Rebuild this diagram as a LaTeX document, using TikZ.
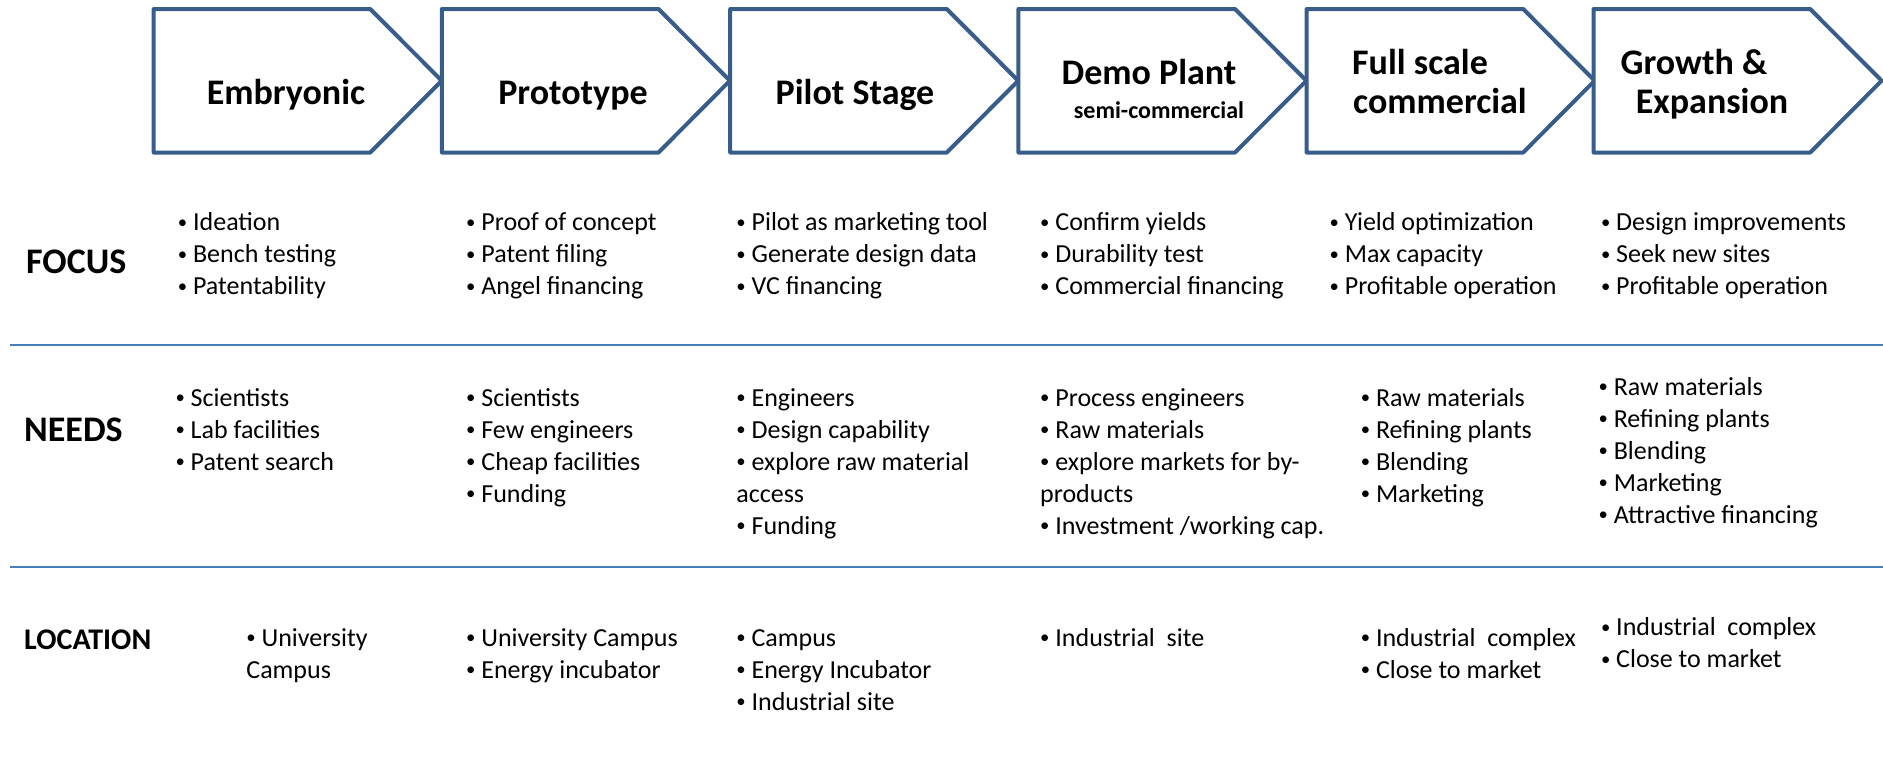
\documentclass[tikz,border=0pt]{standalone}
\usepackage{fontspec}
\setmainfont{Carlito}
\definecolor{arrowblue}{HTML}{385D8A}
\definecolor{lineblue}{HTML}{4A7EBB}
\newcommand\bul{\raisebox{0.1em}{\scalebox{0.72}{\textbullet}}\ }
\begin{document}
\begin{tikzpicture}[x=1pt,y=-1pt,
  stagebox/.style={draw=arrowblue, line width=4pt, fill=white, line join=round},
  sepline/.style={draw=lineblue, line width=2.4pt},
  head/.style={font=\fontsize{36}{40}\selectfont\bfseries, inner sep=0pt, anchor=base},
  subhead/.style={font=\fontsize{24}{28}\selectfont\bfseries, inner sep=0pt, anchor=base},
  rowlabel/.style={font=\fontsize{36}{40}\selectfont\bfseries, inner sep=0pt, anchor=base west},
  items/.style={font=\fontsize{26}{32}\selectfont, inner sep=0pt, anchor=north west, align=left},
]
\useasboundingbox (0,0) rectangle (1883,756);

% stage arrows
\foreach \l in {153.7,441.9,730.2,1018.4,1306.6,1593.6}
  \draw[stagebox] (\l,9) -- (\l+216.6,9) -- (\l+288,80.7) -- (\l+216.6,152.5) -- (\l,152.5) -- cycle;

% stage titles
\node[head] (h1) at (286,104) {Embryonic};
\node[head] (h2) at (573,104) {Prototype};
\node[head] (h3) at (855,104) {Pilot Stage};
\node[head] (h4) at (1149,84.5) {Demo Plant};
\node[subhead] (h4s) at (1159,118) {semi-commercial};
\node[head] (h5a) at (1420,74) {Full scale};
\node[head] (h5b) at (1440,113.5) {commercial};
\node[head] (h6a) at (1694,74) {Growth \&};
\node[head] (h6b) at (1712,113.5) {Expansion};

% separators
\draw[sepline] (10,344.7) -- (1883,344.7);
\draw[sepline] (10,566.8) -- (1883,566.8);

% row labels
\node[rowlabel] (focus) at (26,273.6) {FOCUS};
\node[rowlabel] (needs) at (24,441.6) {NEEDS};
\node[rowlabel, font=\fontsize{30}{34}\selectfont\bfseries] (location) at (24,649.7) {LOCATION};

% FOCUS row
\node[items] (f1) at (177.7,208) {\strut\bul Ideation\\\bul Bench testing\\\bul Patentability};
\node[items] (f2) at (466,208) {\strut\bul Proof of concept\\\bul Patent filing\\\bul Angel financing};
\node[items] (f3) at (736.2,208) {\strut\bul Pilot as marketing tool\\\bul Generate design data\\\bul VC financing};
\node[items] (f4) at (1040,208) {\strut\bul Confirm yields\\\bul Durability test\\\bul Commercial financing};
\node[items] (f5) at (1329.4,208) {\strut\bul Yield optimization\\\bul Max capacity\\\bul Profitable operation};
\node[items] (f6) at (1600.8,208) {\strut\bul Design improvements\\\bul Seek new sites\\\bul Profitable operation};

% NEEDS row
\node[items] (n1) at (175.3,383.5) {\strut\bul Scientists\\\bul Lab facilities\\\bul Patent search};
\node[items] (n2) at (466,383.5) {\strut\bul Scientists\\\bul Few engineers\\\bul Cheap facilities\\\bul Funding};
\node[items] (n3) at (736.2,383.5) {\strut\bul Engineers\\\bul Design capability\\\bul explore raw material\\access\\\bul Funding};
\node[items] (n4) at (1040,383.5) {\strut\bul Process engineers\\\bul Raw materials\\\bul explore markets for by-\\products\\\bul Investment /working cap.};
\node[items] (n5) at (1360.6,383.5) {\strut\bul Raw materials\\\bul Refining plants\\\bul Blending\\\bul Marketing};
\node[items] (n6) at (1598.4,372.7) {\strut\bul Raw materials\\\bul Refining plants\\\bul Blending\\\bul Marketing\\\bul Attractive financing};

% LOCATION row
\node[items] (l1) at (246.2,623.7) {\strut\bul University\\Campus};
\node[items] (l2) at (466,623.7) {\strut\bul University Campus\\\bul Energy incubator};
\node[items] (l3) at (736.2,623.7) {\strut\bul Campus\\\bul Energy Incubator\\\bul Industrial site};
\node[items] (l4) at (1040,623.7) {\strut\bul Industrial\ \ site};
\node[items] (l5) at (1360.6,623.7) {\strut\bul Industrial\ \ complex\\\bul Close to market};
\node[items] (l6) at (1600.8,613) {\strut\bul Industrial\ \ complex\\\bul Close to market};
\end{tikzpicture}
\end{document}
